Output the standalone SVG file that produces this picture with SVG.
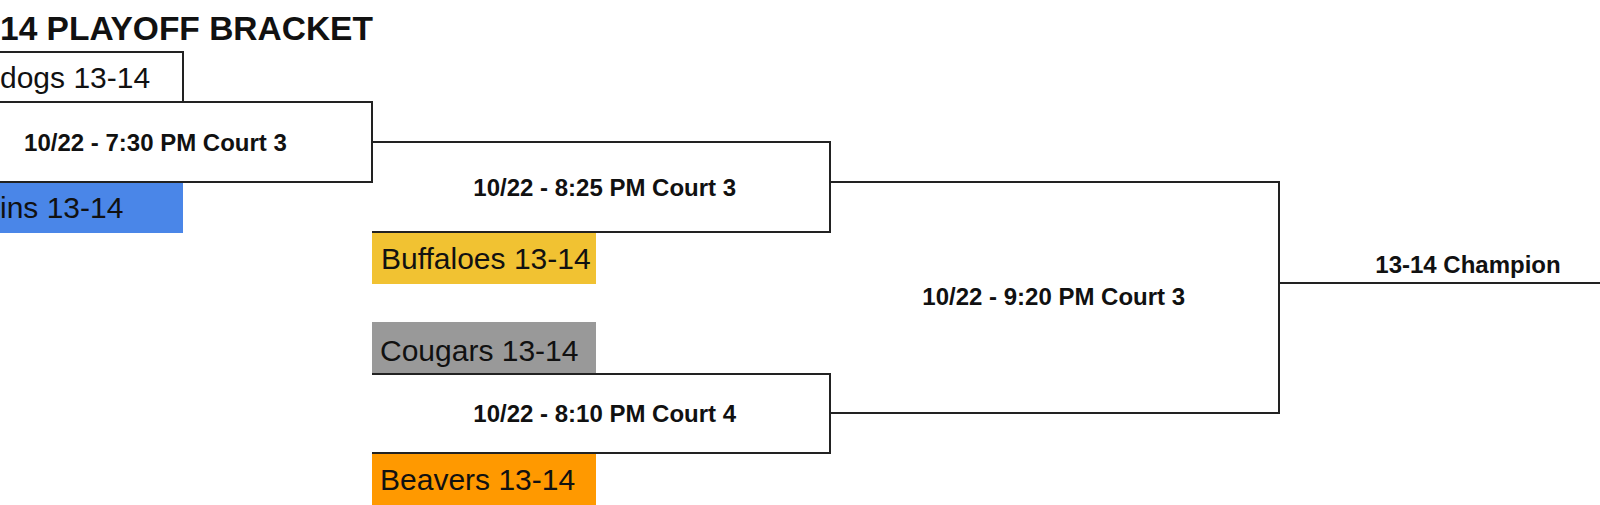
<svg xmlns="http://www.w3.org/2000/svg" width="1600" height="505" viewBox="0 0 1600 505">
<style>
.bg{fill:#ffffff}
.title{font-family:"Liberation Sans",Arial,sans-serif;font-weight:bold;font-size:33.5px;fill:#111}
.team{font-family:"Liberation Sans",Arial,sans-serif;font-size:30px;fill:#111}
.match{font-family:"Liberation Sans",Arial,sans-serif;font-weight:bold;font-size:24px;fill:#111;text-anchor:middle}
.box{fill:#ffffff;stroke:#222;stroke-width:2}
.line{fill:none;stroke:#222;stroke-width:2}
</style>
<rect class="bg" x="0" y="0" width="1600" height="505"/>
<text class="title" x="0" y="40">14 PLAYOFF BRACKET</text>

<g id="connectors">
  <path class="line" d="M372,142 H830 V232 H372"/>
  <path class="line" d="M372,374 H830 V453 H372"/>
  <path class="line" d="M830,182 H1279 V413 H830"/>
  <path class="line" d="M1279,283 H1600"/>
</g>

<g id="team-bulldogs">
  <rect class="box" x="-10" y="52" width="193" height="50"/>
  <text class="team" x="0" y="88">dogs 13-14</text>
</g>
<g id="match-1">
  <rect class="box" x="-10" y="102" width="382" height="80"/>
  <text class="match" x="155.5" y="151">10/22 - 7:30 PM Court 3</text>
</g>
<g id="team-dolphins">
  <rect x="-10" y="183" width="193" height="50" fill="#4a86e8"/>
  <text class="team" x="0" y="218">ins 13-14</text>
</g>
<g id="match-2">
  <text class="match" x="604.7" y="196">10/22 - 8:25 PM Court 3</text>
</g>
<g id="team-buffaloes">
  <rect x="372" y="233" width="224" height="51" fill="#f1c232"/>
  <text class="team" x="381" y="269">Buffaloes 13-14</text>
</g>
<g id="team-cougars">
  <rect x="372" y="322" width="224" height="51" fill="#999999"/>
  <text class="team" x="380" y="361">Cougars 13-14</text>
</g>
<g id="match-3">
  <text class="match" x="604.7" y="422">10/22 - 8:10 PM Court 4</text>
</g>
<g id="team-beavers">
  <rect x="372" y="454" width="224" height="60" fill="#ff9900"/>
  <text class="team" x="380" y="490">Beavers 13-14</text>
</g>
<g id="match-final">
  <text class="match" x="1053.7" y="305">10/22 - 9:20 PM Court 3</text>
</g>
<g id="champion">
  <text class="match" x="1468" y="273">13-14 Champion</text>
</g>
</svg>
